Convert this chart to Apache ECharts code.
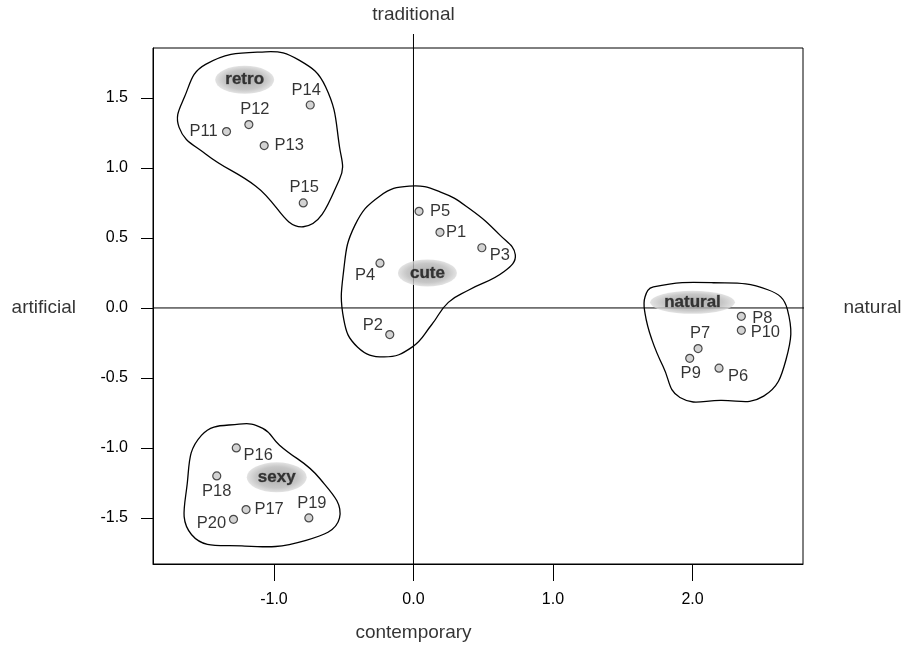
<!DOCTYPE html>
<html>
<head>
<meta charset="utf-8">
<script src="https://cdn.jsdelivr.net/npm/echarts@6/dist/echarts.min.js"></script>
<style>
  html, body { margin: 0; padding: 0; background: #fff; }
  #chart { width: 905px; height: 646px; }
</style>
</head>
<body>
<div id="chart"></div>
<script>
// ---- data ----
const pointNames = ['P1','P2','P3','P4','P5','P6','P7','P8','P9','P10',
                    'P11','P12','P13','P14','P15','P16','P17','P18','P19','P20'];
const pointX = [0.19, -0.17, 0.49, -0.24, 0.04, 2.19, 2.04, 2.35, 1.98, 2.35,
                -1.34, -1.18, -1.07, -0.74, -0.79, -1.27, -1.20, -1.41, -0.75, -1.29];
const pointY = [0.54, -0.19, 0.43, 0.32, 0.69, -0.43, -0.29, -0.06, -0.36, -0.16,
                1.26, 1.31, 1.16, 1.45, 0.75, -1.00, -1.44, -1.20, -1.50, -1.51];

const clusterNames = ['retro', 'cute', 'natural', 'sexy'];
const clusterX = [-1.21, 0.10, 2.00, -0.98];
const clusterY = [1.63, 0.25, 0.04, -1.21];

const retroOutline = [[-1.06,1.83],[-0.82,1.77],[-0.63,1.58],[-0.53,1.15],[-0.53,0.92],
                      [-0.79,0.58],[-1.13,0.87],[-1.49,1.10],[-1.68,1.29],[-1.64,1.51],[-1.49,1.74]];
const cuteOutline = [[-0.03,0.87],[0.19,0.83],[0.40,0.71],[0.62,0.52],[0.73,0.38],[0.65,0.26],
                     [0.40,0.13],[0.25,0.04],[0.13,-0.12],[-0.01,-0.28],[-0.21,-0.35],[-0.40,-0.28],
                     [-0.50,-0.08],[-0.50,0.27],[-0.42,0.59],[-0.24,0.80]];
const naturalOutline = [[1.72,0.15],[2.15,0.18],[2.54,0.13],[2.68,-0.01],[2.67,-0.37],[2.51,-0.63],
                        [2.20,-0.66],[1.91,-0.64],[1.79,-0.42],[1.71,-0.23],[1.66,-0.04],[1.66,0.08]];
const sexyOutline = [[-1.25,-0.83],[-1.08,-0.86],[-0.96,-0.98],[-0.67,-1.22],[-0.53,-1.50],
                     [-0.77,-1.66],[-1.23,-1.70],[-1.59,-1.62],[-1.62,-1.24],[-1.52,-0.91]];
const outlines = [retroOutline, cuteOutline, naturalOutline, sexyOutline];

const xTicks = [-1, 0, 1, 2];
const yTicks = [-1.5, -1, -0.5, 0, 0.5, 1, 1.5];

// ---- styling (not data) ----
const labelOffsets = {
  P1:[16,0], P2:[-17,-9], P3:[18,8], P4:[-15,12], P5:[21,0], P6:[19,8], P7:[2,-15],
  P8:[21,2], P9:[1,15], P10:[24,2], P11:[-23,0], P12:[6,-15], P13:[25,0], P14:[-4,-15],
  P15:[1,-16], P16:[22,8], P17:[23,0], P18:[0,16], P19:[3,-14], P20:[-22,4]
};
const clusterSizes = { retro:[59,28], cute:[59,27], natural:[85,23], sexy:[60,30] };
const FONT = '"Liberation Sans", Arial, sans-serif';

const chart = echarts.init(document.getElementById('chart'));

const pointData = pointNames.map((n, i) => ({
  name: n, value: [pointX[i], pointY[i]],
  label: { offset: labelOffsets[n] }
}));
const clusterData = clusterNames.map((n, i) => ({
  name: n, value: [clusterX[i], clusterY[i]], symbolSize: clusterSizes[n]
}));

const X_MIN = -1.867, X_MAX = 2.792, Y_MIN = -1.829, Y_MAX = 1.857;

const option = {
  animation: false,
  backgroundColor: '#fff',
  grid: { left: 153, right: 102, top: 48, bottom: 82, show: true,
          borderColor: '#000', borderWidth: 1, backgroundColor: 'transparent' },
  xAxis: {
    type: 'value', min: X_MIN, max: X_MAX,
    axisLine: { show: true, onZero: false, lineStyle: { color: '#000', width: 1 } },
    axisTick: { show: true, customValues: xTicks, length: 17, inside: false,
                lineStyle: { color: '#000', width: 1 } },
    axisLabel: { customValues: xTicks, formatter: v => v.toFixed(1), margin: 28,
                 color: '#000', fontSize: 16, fontFamily: FONT },
    splitLine: { show: false }
  },
  yAxis: {
    type: 'value', min: Y_MIN, max: Y_MAX,
    axisLine: { show: true, onZero: false, lineStyle: { color: '#000', width: 1 } },
    axisTick: { show: true, customValues: yTicks, length: 12, inside: false,
                lineStyle: { color: '#000', width: 1 } },
    axisLabel: { customValues: yTicks, formatter: v => v.toFixed(1), margin: 25,
                 color: '#000', fontSize: 16, fontFamily: FONT },
    splitLine: { show: false }
  },
  series: [
    // zero reference lines
    {
      type: 'line', clip: false, symbol: 'none', silent: true,
      lineStyle: { color: '#000', width: 1 },
      data: [[0, Y_MIN], [0, 1.957]], z: 1
    },
    {
      type: 'line', clip: false, symbol: 'none', silent: true,
      lineStyle: { color: '#000', width: 1 },
      data: [[X_MIN, 0], [2.936, 0]], z: 1
    },
    // cluster outlines
    {
      type: 'custom', clip: false, silent: true, z: 2,
      data: outlines.map((o, i) => [i]),
      encode: { x: -1, y: -1 },
      renderItem: function (params, api) {
        const idx = api.value(0);
        const pts = outlines[idx].map(p => api.coord(p));
        return {
          type: 'polygon',
          shape: { points: pts, smooth: 0.45 },
          style: { fill: 'none', stroke: '#000', lineWidth: 1.3 }
        };
      }
    },
    // cluster name ellipses
    {
      type: 'scatter', z: 3, symbol: 'circle', clip: false,
      data: clusterData,
      itemStyle: {
        color: {
          type: 'radial', x: 0.5, y: 0.5, r: 0.5,
          colorStops: [
            { offset: 0, color: '#9a9a9a' },
            { offset: 0.7, color: '#b8b8b8' },
            { offset: 1, color: '#dcdcdc' }
          ]
        }
      },
      label: {
        show: true, position: 'inside', formatter: '{b}',
        color: '#111', fontWeight: 'bold', fontSize: 17, fontFamily: FONT,
        textBorderColor: '#666', textBorderWidth: 0.6
      }
    },
    // points
    {
      type: 'scatter', z: 4, symbol: 'circle', symbolSize: 8,
      data: pointData,
      itemStyle: { color: '#c8c8c8', borderColor: '#222', borderWidth: 1.2 },
      label: {
        show: true, position: 'inside', formatter: '{b}',
        color: '#000', fontSize: 16.5, fontFamily: FONT
      }
    },
    // axis direction names
    {
      type: 'scatter', z: 5, clip: false, symbolSize: 0, silent: true,
      data: [
        { name: 'traditional', value: [0, 2.093] },
        { name: 'contemporary', value: [0, -2.32] },
        { name: 'artificial', value: [-2.65, 0] },
        { name: 'natural', value: [3.29, 0] }
      ],
      label: {
        show: true, position: 'inside', formatter: '{b}',
        color: '#000', fontSize: 19, fontFamily: FONT
      }
    }
  ]
};
chart.setOption(option);
</script>
</body>
</html>
